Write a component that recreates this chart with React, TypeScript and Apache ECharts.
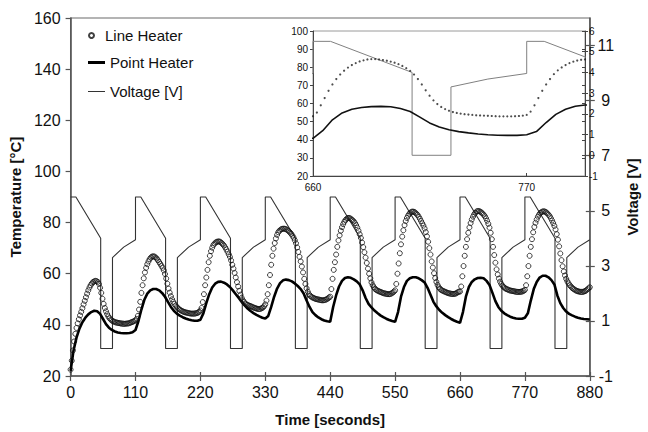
import React, { useEffect, useRef } from 'react';
import * as echarts from 'echarts';

const FONT = 'Liberation Sans, Arial, Helvetica, sans-serif';

// Line Heater temperature [°C], sampled every LH_STEP seconds from t = 0 to 880
const LH_STEP = 2;
const LINE_HEATER = [
  22.5, 26, 30, 33.5, 36.5, 38.8, 40.6, 42.2, 43.7, 45.1,
  46.5, 48, 49.4, 50.8, 52.2, 53.5, 54.6, 55.5, 56.2, 56.7,
  57, 57.2, 57.1, 56.8, 56, 54.5, 52.5, 50.2, 48.2, 46.6,
  45.3, 44.2, 43.3, 42.6, 42.1, 41.7, 41.4, 41.2, 41, 40.9,
  40.8, 40.7, 40.6, 40.5, 40.5, 40.4, 40.4, 40.5, 40.5, 40.6,
  40.7, 40.9, 41.1, 41.3, 41.5,
  41.8, 42.3, 43.5, 46, 49, 52.5, 55.5, 58.2, 60.5, 62.3,
  63.7, 64.8, 65.7, 66.3, 66.7, 66.8, 66.7, 66.4, 65.9, 65.3,
  64.6, 63.9, 63.1, 62.3, 61.3, 59.9, 58.1, 56.1, 54.2, 52.6,
  51.2, 50, 49, 48.2, 47.5, 47, 46.5, 46.1, 45.8, 45.5,
  45.3, 45.1, 44.9, 44.8, 44.7, 44.6, 44.5, 44.4, 44.4, 44.4,
  44.4, 44.5, 44.6, 44.8, 45.1,
  45.6, 46.6, 48.9, 52, 55.5, 58.5, 61.5, 64.5, 67, 68.8,
  70.2, 71.2, 71.8, 72.2, 72.5, 72.6, 72.6, 72.4, 72, 71.5,
  71, 70.3, 69.5, 68.6, 67.6, 66.6, 65.2, 63.5, 62, 60.3,
  58.5, 56.7, 55, 53.3, 51.8, 50.6, 49.6, 48.9, 48.4, 48,
  47.8, 47.6, 47.4, 47.2, 47, 46.8, 46.6, 46.5, 46.3, 46.2,
  46.2, 46.3, 46.5, 46.8, 47.3,
  48, 49.5, 52, 55.5, 59.5, 63.5, 67, 69.8, 72, 73.8,
  75.2, 76.2, 76.8, 77.2, 77.5, 77.6, 77.6, 77.5, 77.3, 77,
  76.6, 76.1, 75.6, 74.9, 74.1, 73.1, 71.9, 70.3, 68.5, 66.6,
  64.8, 62.8, 60.5, 58, 56, 54.3, 53, 52, 51.4, 51,
  50.7, 50.5, 50.3, 50.1, 50, 49.9, 49.8, 49.7, 49.6, 49.6,
  49.7, 49.8, 50, 50.3, 50.7,
  51, 54, 58, 61.5, 64.5, 67.5, 70.5, 73, 75, 76.8,
  78.2, 79.4, 80.3, 81, 81.5, 81.8, 81.8, 81.6, 81.3, 80.9,
  80.4, 79.8, 79, 78, 76.8, 75.4, 74, 72.2, 70.4, 68.4,
  66.3, 64.2, 62, 60, 58.2, 56.6, 55.5, 54.7, 54.1, 53.7,
  53.4, 53.2, 53, 52.8, 52.6, 52.4, 52.3, 52.2, 52.1, 52,
  52, 52.1, 52.3, 52.6, 53,
  53.5, 56, 60, 64, 68, 71.5, 74.5, 77, 79, 80.6,
  81.8, 82.7, 83.4, 83.9, 84.2, 84.3, 84.2, 83.9, 83.5, 83,
  82.3, 81.5, 80.6, 79.7, 78.8, 77.7, 76.3, 74.6, 72.5, 70,
  67.5, 64.8, 62.4, 60.2, 58.3, 56.8, 55.6, 54.7, 54.1, 53.7,
  53.4, 53.2, 53, 52.8, 52.6, 52.4, 52.3, 52.2, 52.1, 52.1,
  52.1, 52.2, 52.4, 52.7, 53,
  53, 55, 59, 63, 67, 70.5, 73.5, 76, 78.1, 79.8,
  81.2, 82.3, 83.2, 83.8, 84.3, 84.5, 84.5, 84.3, 84, 83.6,
  83.1, 82.5, 81.7, 80.7, 79.5, 78, 76, 73.5, 70.5, 67.3,
  64.3, 61.7, 59.7, 58.1, 56.9, 56, 55.3, 54.8, 54.4, 54.1,
  53.9, 53.7, 53.5, 53.4, 53.3, 53.2, 53.1, 53, 52.9, 52.9,
  52.9, 52.9, 53, 53.1, 53.3,
  53.7, 55.5, 59, 63, 67, 70.5, 73.5, 76.2, 78.3, 79.9,
  81.2, 82.3, 83.1, 83.7, 84.1, 84.3, 84.4, 84.3, 84, 83.6,
  83.1, 82.5, 81.7, 80.8, 79.8, 78.7, 77.3, 75.5, 73.3, 70.7,
  67.9, 65.3, 62.9, 60.9, 59.3, 58, 57, 56.2, 55.5, 55,
  54.5, 54.1, 53.8, 53.5, 53.3, 53.1, 53, 52.9, 52.9, 52.9,
  53, 53.2, 53.5, 53.9, 54.3, 54.7,
];

// Point Heater temperature [°C], sampled every PH_STEP seconds from t = 0 to 880
const PH_STEP = 5;
const POINT_HEATER = [
  22, 30, 35, 38.5, 41, 42.8, 44.1, 45, 45.5, 45.3, 44.3, 42.3, 40.3, 38.9, 38, 37.4, 37, 36.8, 36.7, 36.7, 36.8, 37.1,
  38, 41.5, 46, 49.8, 52.2, 53.5, 54, 54, 53.5, 52.5, 51, 49, 47, 45.5, 44.4, 43.6, 43, 42.5, 42.1, 41.8, 41.6, 41.6,
  42, 44.5, 48.5, 52, 54.6, 56.1, 56.8, 56.9, 56.5, 55.8, 54.8, 53.5, 52, 50.5, 49, 47.6, 46.4, 45.4, 44.6, 43.9, 43.3, 42.8,
  42.5, 43.5, 47, 51, 54.2, 56.3, 57.4, 57.7, 57.5, 57, 56.2, 55.2, 54, 52.3, 49.5, 47, 45, 43.8, 42.9, 42.2, 41.7, 41.4,
  41.2, 47, 51.5, 55, 57.2, 58.3, 58.6, 58.4, 57.8, 57, 55.8, 53.5, 50.5, 48.2, 46.8, 45.6, 44.6, 43.7, 43, 42.4, 41.9, 41.5,
  41.2, 45, 51, 54.8, 57.2, 58.2, 58.6, 58.6, 58.2, 57.5, 56.6, 54.5, 51.8, 49, 47.2, 45.8, 44.7, 43.8, 43, 42.3, 41.7, 41.2,
  40.8, 45, 51, 54.8, 56.8, 57.8, 58.3, 58.4, 58.2, 57.2, 55.6, 52.5, 49.3, 47, 45.5, 44.5, 43.8, 43.2, 42.8, 42.5, 42.4, 42.4,
  42.8, 44.5, 49.5, 54, 56.8, 58.5, 59.2, 59.2, 58.6, 57.5, 55.8, 51.5, 48.5, 46.6, 45.2, 44.3, 43.7, 43.2, 42.8, 42.5, 42.3, 42.2,
  42.1,
];

// Heater voltage [V]: breakpoints (time [s], value)
const VOLT_T = [
  0, 9, 51, 51, 71, 71, 90,
  110, 110, 119, 161, 161, 181, 181, 200,
  220, 220, 229, 271, 271, 291, 291, 310,
  330, 330, 339, 381, 381, 401, 401, 420,
  440, 440, 449, 491, 491, 511, 511, 530,
  550, 550, 559, 601, 601, 621, 621, 640,
  660, 660, 669, 711, 711, 731, 731, 750,
  770, 770, 779, 821, 821, 841, 841, 860, 880,
];
const VOLT_V = [
  5.5, 5.5, 4.0, 0, 0, 3.3, 3.68,
  3.95, 5.5, 5.5, 4.0, 0, 0, 3.3, 3.68,
  3.95, 5.5, 5.5, 4.0, 0, 0, 3.3, 3.68,
  3.95, 5.5, 5.5, 4.0, 0, 0, 3.3, 3.68,
  3.95, 5.5, 5.5, 4.0, 0, 0, 3.3, 3.68,
  3.95, 5.5, 5.5, 4.0, 0, 0, 3.3, 3.68,
  3.95, 5.5, 5.5, 4.0, 0, 0, 3.3, 3.68,
  3.95, 5.5, 5.5, 4.0, 0, 0, 3.3, 3.68, 3.95,
];

const VOLT_TICKS = [-1, 1, 3, 5, 7, 9, 11];
const INSET_X_TICKS = [660, 770];

export default function App() {
  const ref = useRef<HTMLDivElement>(null);

  useEffect(() => {
    if (!ref.current) return;
    const chart = echarts.init(ref.current, null, { renderer: 'svg' });
    const lh = LINE_HEATER.map((v, i) => [i * LH_STEP, v]);
    const ph = POINT_HEATER.map((v, i) => [i * PH_STEP, v]);
    const volt = VOLT_T.map((t, i) => [t, VOLT_V[i]]);

    const axisCol = '#555';
    const labelCol = '#111';
    const legendText = { fontSize: 15, color: labelCol, fontFamily: FONT };
    const hidden = { axisLine: { show: false }, axisLabel: { show: false }, splitLine: { show: false } };

    chart.setOption({
      animation: false,
      backgroundColor: '#ffffff',
      textStyle: { fontFamily: FONT },
      grid: [
        { left: 68, right: 41, top: 18, bottom: 54, show: true, borderColor: '#6a6a6a', borderWidth: 1.2 },
        { left: 313, right: 63, top: 31, bottom: 256, show: true, borderColor: '#9a9a9a', borderWidth: 1 },
      ],
      legend: [
        {
          data: [{ name: 'Line Heater', icon: 'circle' }],
          left: 83, top: 23, padding: 5, itemWidth: 17, itemHeight: 5, selectedMode: false,
          textStyle: legendText,
        },
        {
          data: [{ name: 'Point Heater', icon: 'rect' }],
          left: 83, top: 50, padding: 5, itemWidth: 17, itemHeight: 3, selectedMode: false,
          textStyle: legendText,
        },
        {
          data: [{ name: 'Voltage [V]', icon: 'rect' }],
          left: 83, top: 79, padding: 5, itemWidth: 17, itemHeight: 1, selectedMode: false,
          textStyle: legendText,
        },
      ],
      xAxis: [
        {
          gridIndex: 0, type: 'value', min: 0, max: 880, interval: 110,
          name: 'Time [seconds]', nameLocation: 'middle', nameGap: 36,
          nameTextStyle: { fontWeight: 'bold', fontSize: 15, color: labelCol, fontFamily: FONT },
          axisLine: { onZero: false, lineStyle: { color: axisCol, width: 1.5 } },
          axisTick: { length: 5, lineStyle: { color: axisCol, width: 1.2 } },
          axisLabel: { fontSize: 16, color: labelCol, margin: 8, fontFamily: FONT },
          splitLine: { show: false },
        },
        {
          gridIndex: 1, type: 'value', min: 660, max: 800,
          axisLine: { onZero: false, lineStyle: { color: '#444', width: 1 } },
          axisTick: { customValues: INSET_X_TICKS, inside: true, length: 3, lineStyle: { color: '#444' } },
          axisLabel: { customValues: INSET_X_TICKS, fontSize: 10, color: labelCol, margin: 6, fontFamily: FONT },
          splitLine: { show: false },
        },
        {
          // inner half of the crossing tick marks on the main time axis
          gridIndex: 0, type: 'value', position: 'bottom', min: 0, max: 880, interval: 110,
          ...hidden,
          axisLine: { show: false, onZero: false },
          axisTick: { show: true, inside: true, length: 4, lineStyle: { color: axisCol, width: 1.2 } },
        },
      ],
      yAxis: [
        {
          gridIndex: 0, type: 'value', min: 20, max: 160, interval: 20,
          name: 'Temperature [°C]', nameLocation: 'middle', nameRotate: 90, nameGap: 44,
          nameTextStyle: { fontWeight: 'bold', fontSize: 15, color: labelCol, fontFamily: FONT },
          axisLine: { show: true, onZero: false, lineStyle: { color: axisCol, width: 1.5 } },
          axisTick: { show: true, length: 5, lineStyle: { color: axisCol, width: 1.2 } },
          axisLabel: { fontSize: 16, color: labelCol, margin: 10, fontFamily: FONT },
          splitLine: { show: false },
        },
        {
          gridIndex: 0, type: 'value', position: 'right', min: -1, max: 12,
          name: 'Voltage [V]', nameLocation: 'middle', nameRotate: 90, nameGap: 34,
          nameTextStyle: { fontWeight: 'bold', fontSize: 15, color: labelCol, fontFamily: FONT },
          axisLine: { show: true, onZero: false, lineStyle: { color: axisCol, width: 1.5 } },
          axisTick: { show: true, customValues: VOLT_TICKS, length: 5, lineStyle: { color: axisCol, width: 1.2 } },
          axisLabel: { customValues: VOLT_TICKS, fontSize: 16, color: labelCol, margin: 16, align: 'center', fontFamily: FONT },
          splitLine: { show: false },
        },
        {
          gridIndex: 1, type: 'value', min: 20, max: 100, interval: 10,
          axisLine: { show: true, onZero: false, lineStyle: { color: '#444', width: 1 } },
          axisTick: { show: true, length: 3, lineStyle: { color: '#444' } },
          axisLabel: { fontSize: 10, color: labelCol, margin: 5, fontFamily: FONT },
          splitLine: { show: false },
        },
        {
          gridIndex: 1, type: 'value', position: 'right', min: -1, max: 6, interval: 1,
          axisLine: { show: true, onZero: false, lineStyle: { color: '#444', width: 1 } },
          axisTick: { show: true, length: 3, lineStyle: { color: '#444' } },
          axisLabel: { fontSize: 10, color: labelCol, margin: 4, fontFamily: FONT },
          splitLine: { show: false },
        },
        {
          // inner half of the crossing tick marks on the main voltage axis
          gridIndex: 0, type: 'value', position: 'right', min: -1, max: 12,
          ...hidden,
          axisLine: { show: false, onZero: false },
          axisTick: { show: true, inside: true, customValues: VOLT_TICKS, length: 4, lineStyle: { color: axisCol, width: 1.2 } },
        },
        {
          gridIndex: 1, type: 'value', min: 20, max: 100, interval: 10,
          ...hidden,
          axisLine: { show: false, onZero: false },
          axisTick: { show: true, inside: true, length: 3, lineStyle: { color: '#444' } },
        },
        {
          gridIndex: 1, type: 'value', position: 'right', min: -1, max: 6, interval: 1,
          ...hidden,
          axisLine: { show: false, onZero: false },
          axisTick: { show: true, inside: true, length: 3, lineStyle: { color: '#444' } },
        },
      ],
      series: [
        {
          type: 'line', name: 'Voltage [V]', xAxisIndex: 0, yAxisIndex: 1, data: volt,
          symbol: 'none', lineStyle: { color: '#333', width: 1.1 }, itemStyle: { color: '#333' }, z: 2,
        },
        {
          type: 'line', name: 'Point Heater', xAxisIndex: 0, yAxisIndex: 0, data: ph,
          symbol: 'none', lineStyle: { color: '#000', width: 2.6 }, itemStyle: { color: '#000' }, z: 3,
        },
        {
          type: 'scatter', name: 'Line Heater', xAxisIndex: 0, yAxisIndex: 0, data: lh,
          symbol: 'circle', symbolSize: 5,
          itemStyle: { color: 'rgba(255,255,255,0)', borderColor: '#111', borderWidth: 1 }, z: 4,
        },
        {
          type: 'line', name: 'Voltage [V]', xAxisIndex: 1, yAxisIndex: 3, data: volt,
          symbol: 'none', lineStyle: { color: '#808080', width: 1 }, itemStyle: { color: '#808080' }, clip: true, z: 2,
        },
        {
          type: 'line', name: 'Point Heater', xAxisIndex: 1, yAxisIndex: 2, data: ph,
          symbol: 'none', lineStyle: { color: '#111', width: 1.6 }, itemStyle: { color: '#111' }, clip: true, z: 3,
        },
        {
          type: 'scatter', name: 'Line Heater', xAxisIndex: 1, yAxisIndex: 2, data: lh,
          symbol: 'circle', symbolSize: 2.2, itemStyle: { color: '#222' }, clip: true, z: 4,
        },
      ],
    });

    return () => chart.dispose();
  }, []);

  return (
    <div
      ref={ref}
      style={{ position: 'fixed', left: 0, top: 0, width: 648, height: 432, background: '#fff' }}
    />
  );
}
